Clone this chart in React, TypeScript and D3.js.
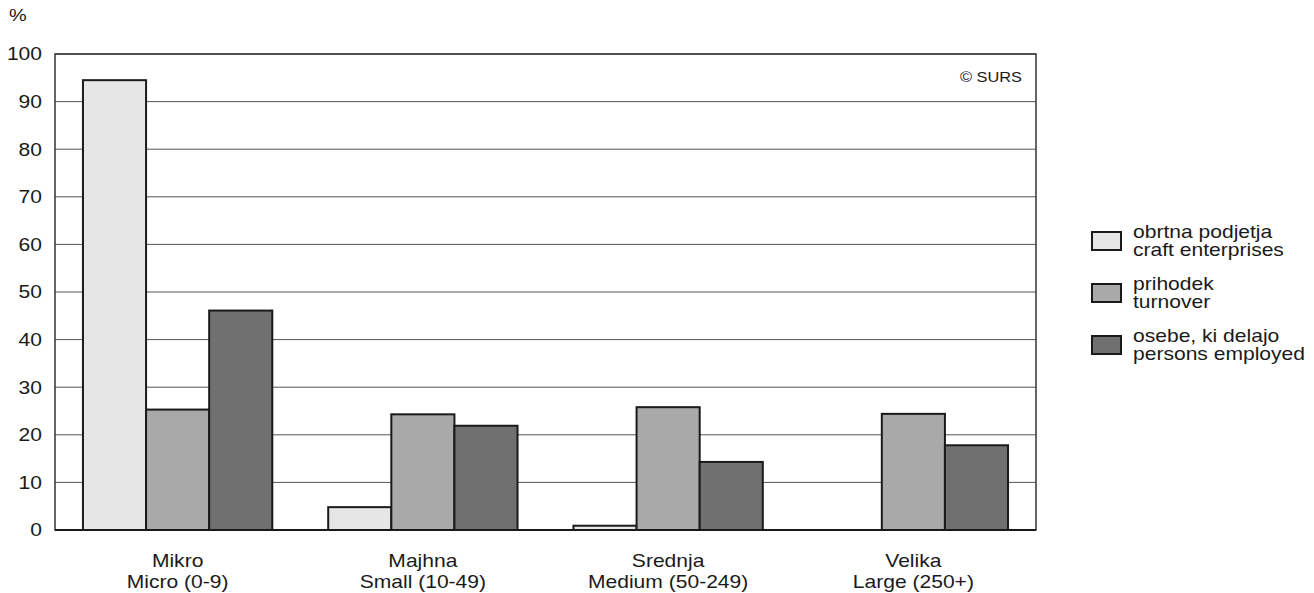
import React from "react";
import * as d3 from "d3";

const categoriesSl = ["Mikro", "Majhna", "Srednja", "Velika"];
const categoriesEn = ["Micro (0-9)", "Small (10-49)", "Medium (50-249)", "Large (250+)"];
const seriesSl = ["obrtna podjetja", "prihodek", "osebe, ki delajo"];
const seriesEn = ["craft enterprises", "turnover", "persons employed"];
const craftEnterprises = [94.5, 4.8, 0.9, 0];
const turnover = [25.3, 24.3, 25.8, 24.4];
const personsEmployed = [46.1, 21.9, 14.3, 17.8];
const yTicks = [0, 10, 20, 30, 40, 50, 60, 70, 80, 90, 100];
const fills = ["#e6e6e6", "#a9a9a9", "#707070"];

const W = 1314;
const H = 593;
const plot = { left: 55, right: 1036, top: 54, bottom: 530 };
const FONT = "'Liberation Sans', Arial, Helvetica, sans-serif";
const STRETCH = 1.17;

type LabelProps = {
  x: number;
  y: number;
  size?: number;
  anchor?: "start" | "middle" | "end";
  central?: boolean;
  children: React.ReactNode;
};

// Text set in a slightly wide face: glyphs are widened horizontally around their anchor.
function Label({ x, y, size = 18, anchor = "start", central = false, children }: LabelProps) {
  return (
    <text
      transform={`translate(${x},${y}) scale(${STRETCH},1)`}
      textAnchor={anchor}
      dominantBaseline={central ? "central" : "auto"}
      fontSize={size}
      fill="#1a1a1a"
    >
      {children}
    </text>
  );
}

export default function App() {
  const series = [craftEnterprises, turnover, personsEmployed];
  const y = d3.scaleLinear().domain([0, 100]).range([plot.bottom, plot.top]);
  const x0 = d3
    .scaleBand<string>()
    .domain(categoriesSl)
    .range([plot.left, plot.right])
    .paddingInner(0.228)
    .paddingOuter(0.114);
  const x1 = d3
    .scaleBand<number>()
    .domain([0, 1, 2])
    .range([0, x0.bandwidth()]);

  return (
    <svg
      width={W}
      height={H}
      style={{ position: "absolute", left: 0, top: 0, background: "#fff" }}
      fontFamily={FONT}
    >
      {/* horizontal grid */}
      {yTicks.map((t) => (
        <line
          key={"g" + t}
          x1={plot.left}
          x2={plot.right}
          y1={y(t)}
          y2={y(t)}
          stroke="#555"
          strokeWidth={1}
        />
      ))}
      {/* y tick labels */}
      {yTicks.map((t) => (
        <Label key={"t" + t} x={42} y={y(t)} anchor="end" central>
          {t}
        </Label>
      ))}
      <Label x={9} y={15} size={17} central>
        %
      </Label>

      {/* bars */}
      {categoriesSl.map((c, i) => (
        <g key={c} transform={`translate(${x0(c)},0)`}>
          {series.map((vals, s) =>
            vals[i] > 0 ? (
              <rect
                key={s}
                x={x1(s)}
                y={y(vals[i])}
                width={x1.bandwidth()}
                height={y(0) - y(vals[i])}
                fill={fills[s]}
                stroke="#1a1a1a"
                strokeWidth={2}
              />
            ) : null
          )}
        </g>
      ))}

      {/* frame */}
      <rect
        x={plot.left}
        y={plot.top}
        width={plot.right - plot.left}
        height={plot.bottom - plot.top}
        fill="none"
        stroke="#333"
        strokeWidth={1.5}
      />
      <line x1={plot.left} x2={plot.right} y1={plot.bottom} y2={plot.bottom} stroke="#1a1a1a" strokeWidth={2} />

      <Label x={1022} y={77} size={14} anchor="end" central>
        © SURS
      </Label>

      {/* category labels */}
      {categoriesSl.map((c, i) => {
        const cx = (x0(c) as number) + x0.bandwidth() / 2;
        return (
          <g key={"l" + c}>
            <Label x={cx} y={567} anchor="middle">
              {c}
            </Label>
            <Label x={cx} y={588} anchor="middle">
              {categoriesEn[i]}
            </Label>
          </g>
        );
      })}

      {/* legend */}
      {seriesSl.map((s, i) => {
        const cy = 241 + i * 52;
        return (
          <g key={"lg" + s}>
            <rect x={1092} y={cy - 9} width={29} height={18} fill={fills[i]} stroke="#1a1a1a" strokeWidth={2} />
            <Label x={1133} y={cy - 9} central>
              {s}
            </Label>
            <Label x={1133} y={cy + 9} central>
              {seriesEn[i]}
            </Label>
          </g>
        );
      })}
    </svg>
  );
}
